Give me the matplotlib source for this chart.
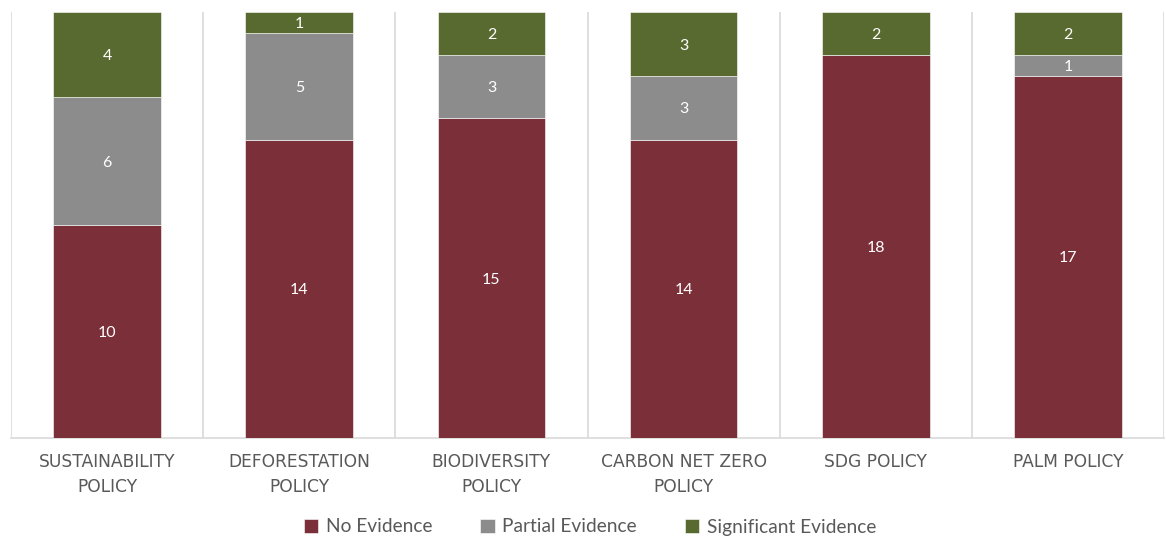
import matplotlib
matplotlib.use("Agg")
import matplotlib.pyplot as plt
import numpy as np

categories = ["SUSTAINABILITY\nPOLICY", "DEFORESTATION\nPOLICY", "BIODIVERSITY\nPOLICY",
              "CARBON NET ZERO\nPOLICY", "SDG POLICY", "PALM POLICY"]
no_evidence = [10, 14, 15, 14, 18, 17]
partial_evidence = [6, 5, 3, 3, 0, 1]
significant_evidence = [4, 1, 2, 3, 2, 2]

series = [
    ("No Evidence", no_evidence, "#7B2F38"),
    ("Partial Evidence", partial_evidence, "#8C8C8C"),
    ("Significant Evidence", significant_evidence, "#586A2F"),
]

plt.rcParams["font.family"] = ["Lato", "DejaVu Sans"]

fig = plt.figure(figsize=(11.66, 5.40), dpi=100)
ax = fig.add_axes([11 / 1166, 1 - 437.5 / 540, 1153 / 1166, 425.5 / 540])

x = np.arange(len(categories))
bottom = np.zeros(len(categories))
handles = []
for name, vals, color in series:
    vals = np.array(vals, dtype=float)
    bars = ax.bar(x, vals, width=0.56, bottom=bottom, color=color,
                  edgecolor="white", linewidth=0.4, label=name, zorder=3)
    handles.append(bars)
    for xi, b, v in zip(x, bottom, vals):
        if v > 0:
            ax.text(xi, b + v / 2 - 0.08, f"{int(v)}", ha="center", va="center",
                    color="white", fontsize=11.5, zorder=4)
    bottom += vals

ax.set_xlim(-0.5, len(categories) - 0.5)
ax.set_ylim(0, 20)
ax.set_yticks([])

# category separators
for b in np.arange(-0.5, len(categories), 1.0):
    ax.axvline(b, color="#D9D9D9", linewidth=1.2, zorder=1)

for s in ["top", "left", "right"]:
    ax.spines[s].set_visible(False)
ax.spines["bottom"].set_color("#D9D9D9")
ax.spines["bottom"].set_linewidth(1.2)

ax.set_xticks(x)
ax.set_xticklabels(categories, fontsize=12.3, color="#595959", linespacing=1.45,
                   family=["DejaVu Sans"])
ax.tick_params(axis="x", length=0, pad=11.5)

fig.legend(handles=handles, loc="center", bbox_to_anchor=(590 / 1166, 1 - 527 / 540),
           ncol=3, frameon=False, fontsize=13.8, labelcolor="#595959",
           handlelength=0.75, handleheight=0.75, handletextpad=0.4, columnspacing=2.5)

fig.savefig("out.png", dpi=100)
